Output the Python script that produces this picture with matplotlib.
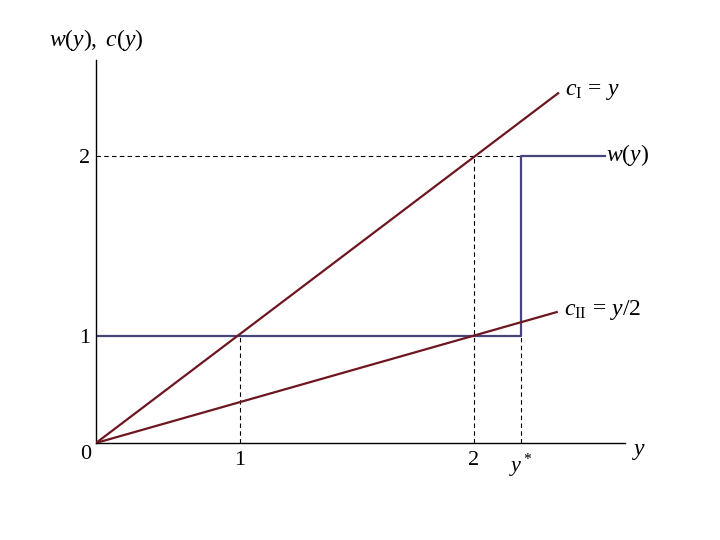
import matplotlib as mpl
from matplotlib import pyplot as plt

mpl.rcParams['mathtext.fontset'] = 'custom'
mpl.rcParams['mathtext.rm'] = 'Liberation Serif'
mpl.rcParams['mathtext.it'] = 'Liberation Serif:italic'
mpl.rcParams['font.family'] = 'Liberation Serif'

# schematic positions on the axes (the picture is not to scale)
x_ticks = [1.0, 2.625]
x_tick_labels = ['1', '2']
y_star = 2.95
y_ticks = [1.0, 2.68]
y_tick_labels = ['1', '2']

# c_I = y and c_II = y/2 (end points)
cI_x = [0, 3.21]
cI_y = [0, 3.27]
cII_x = [0, 3.20]
cII_y = [0, 1.224]

# w(y): step at y*
w_x = [0, y_star, y_star, 3.535]
w_y = [y_ticks[0], y_ticks[0], y_ticks[1], y_ticks[1]]

red = '#6e1620'
navy = '#46467a'

fig = plt.figure(figsize=(7.2, 5.4), dpi=100)
ax = fig.add_axes([0.1333, 0.1796, 0.7347, 0.709])
ax.set_xlim(0, 3.674)
ax.set_ylim(0, 3.579)

# dashed guides
dash = dict(color='black', lw=0.8, linestyle=(0, (4, 3)), zorder=1)
ax.plot([x_ticks[0], x_ticks[0]], [0, y_ticks[0]], **dash)
ax.plot([x_ticks[1], x_ticks[1]], [0, y_ticks[1]], **dash)
ax.plot([y_star, y_star], [0, y_ticks[0]], **dash)
ax.plot([0, y_star], [y_ticks[1], y_ticks[1]], **dash)

ax.plot(w_x, w_y, color=navy, lw=1.6, zorder=2)
ax.plot(cI_x, cI_y, color=red, lw=1.6, zorder=3)
ax.plot(cII_x, cII_y, color=red, lw=1.6, zorder=3)

fs = 16
lfs = 17
ax.text(cI_x[1] + 0.05, cI_y[1] + 0.02, r'$c_{\mathrm{I}}\,=\,y$', fontsize=lfs, va='center')
ax.text(cII_x[1] + 0.05, cII_y[1] + 0.02, r'$c_{\mathrm{II}}\,=\,y/2$', fontsize=lfs, va='center')
ax.text(w_x[-1] + 0.01, w_y[-1] + 0.01, r'$w(y)$', fontsize=lfs, va='center')

ax.set_xticks(x_ticks + [y_star])
ax.set_xticklabels(x_tick_labels + [r'$y^*$'], fontsize=fs)
ax.set_yticks(y_ticks)
ax.set_yticklabels(y_tick_labels, fontsize=fs)
ax.tick_params(axis='y', length=0, pad=4)
ax.tick_params(axis='x', length=0, pad=6)
ax.text(-0.035, -0.02, '0', fontsize=fs, ha='right', va='top')

ax.text(3.77, -0.08, r'$y$', fontsize=lfs, va='center', ha='center', clip_on=False)
ax.text(0.0, 3.65, r'$w(y),\ c(y)$', fontsize=lfs, ha='center', va='bottom', clip_on=False)

for s in ['top', 'right']:
    ax.spines[s].set_visible(False)
for s in ['left', 'bottom']:
    ax.spines[s].set_linewidth(1.0)

fig.savefig('out.png', dpi=100)
